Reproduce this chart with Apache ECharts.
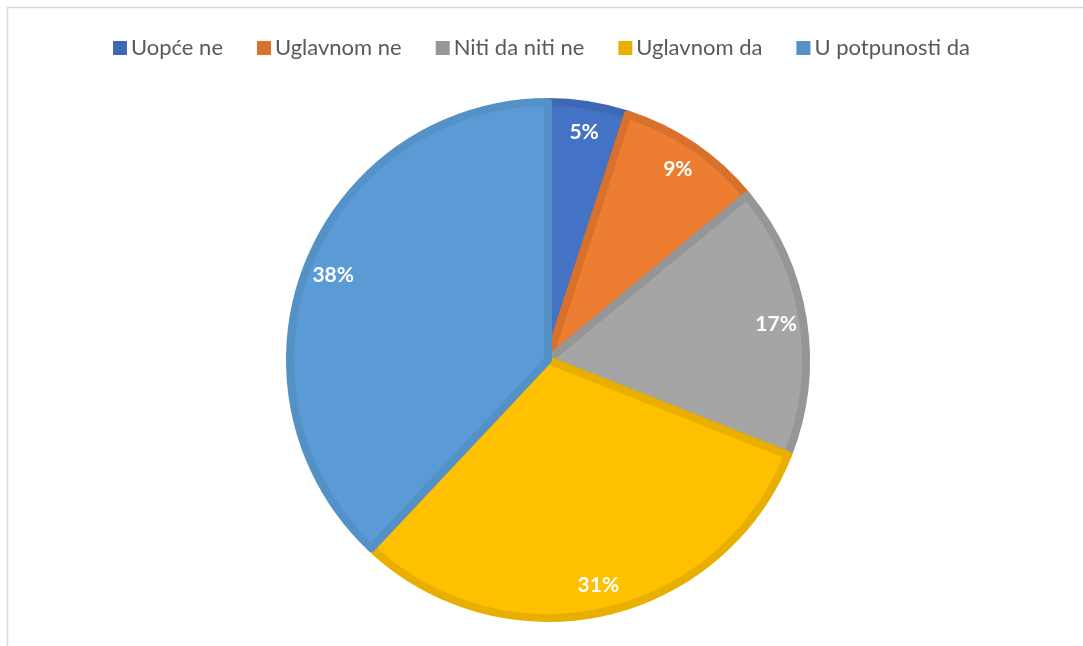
<!DOCTYPE html>
<html>
<head>
<meta charset="utf-8">
<script src="https://cdn.jsdelivr.net/npm/echarts@6/dist/echarts.min.js"></script>
<style>
  html, body { margin: 0; padding: 0; background: #fff; }
  #chart { width: 1083px; height: 646px; }
</style>
</head>
<body>
<div id="chart"></div>
<script>
// categories and shares (%)
var categories = ["Uopće ne", "Uglavnom ne", "Niti da niti ne", "Uglavnom da", "U potpunosti da"];
var values = [5, 9, 17, 31, 38];
var fillColors = ["#4472C4", "#ED7D31", "#A5A5A5", "#FFC000", "#5B9BD5"];
var edgeColors = ["#3E68B4", "#D8712C", "#969696", "#E8AF00", "#5391C6"];

var chart = echarts.init(document.getElementById("chart"));

var pieData = categories.map(function (name, i) {
    return {
        name: name,
        value: values[i],
        itemStyle: { color: fillColors[i], borderColor: edgeColors[i], borderWidth: 8 }
    };
});

var labelData = categories.map(function (name, i) {
    return { name: name, value: values[i] };
});

chart.setOption({
    backgroundColor: "#fff",
    animation: false,
    graphic: [{
        type: "rect",
        shape: { x: 7.5, y: 7.5, width: 1100, height: 700 },
        style: { fill: "none", stroke: "#d9d9d9", lineWidth: 1.5 },
        silent: true
    }],
    legend: {
        top: 32,
        left: "center",
        itemGap: 34,
        icon: "rect",
        itemWidth: 14,
        itemHeight: 14,
        textStyle: { fontFamily: "Lato", fontSize: 22, color: "#595959", padding: [0, 0, 0, -1] },
        data: categories.map(function (name, i) {
            return { name: name, itemStyle: { color: edgeColors[i], borderWidth: 0 } };
        })
    },
    series: [
        {
            type: "pie",
            center: [548, 360],
            radius: [0, 258],
            startAngle: 90,
            clockwise: true,
            label: { show: false },
            labelLine: { show: false },
            emphasis: { disabled: true },
            data: pieData
        },
        {
            // label-only ring so that the percent labels sit near the outer edge
            type: "pie",
            center: [548, 360],
            radius: [200, 256],
            startAngle: 90,
            clockwise: true,
            silent: true,
            itemStyle: { color: "rgba(0,0,0,0)" },
            label: {
                show: true,
                position: "inside",
                formatter: "{c}%",
                fontFamily: "Lato",
                fontWeight: "bold",
                fontSize: 21,
                color: "#fff"
            },
            labelLine: { show: false },
            emphasis: { disabled: true },
            legendHoverLink: false,
            data: labelData
        }
    ]
});
</script>
</body>
</html>
